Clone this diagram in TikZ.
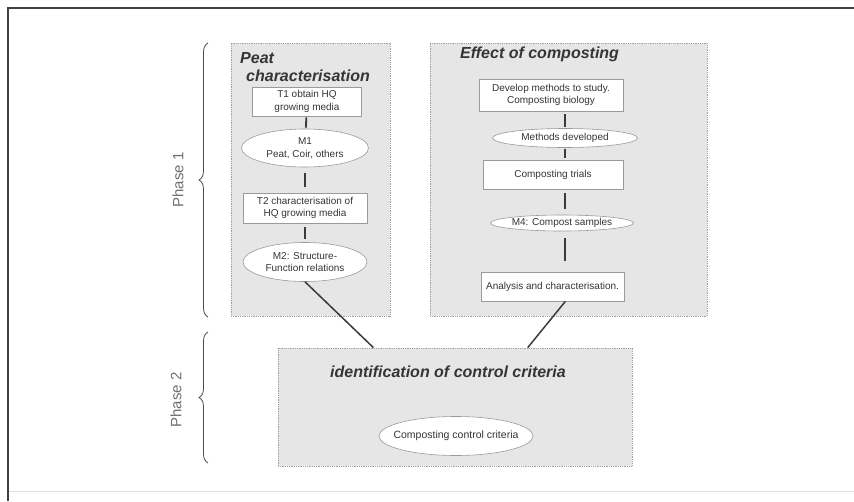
\documentclass[tikz,border=0pt]{standalone}
\usepackage{fontspec}
\setmainfont{Liberation Sans}
\usetikzlibrary{shapes.geometric,decorations.pathreplacing,calc}
\definecolor{framec}{HTML}{404040}
\definecolor{panelfill}{HTML}{E6E6E6}
\definecolor{paneldraw}{HTML}{A0A0A0}
\definecolor{boxdraw}{HTML}{9A9A9A}
\definecolor{txt}{HTML}{353535}
\definecolor{phasec}{HTML}{707070}
\definecolor{linkc}{HTML}{3A3A3A}
\newcommand{\zw}[1]{\makebox[0pt]{#1}}
\begin{document}
\begin{tikzpicture}[x=1pt,y=-1pt,
 panel/.style={draw=paneldraw, densely dotted, fill=panelfill, line width=0.8pt, inner sep=0},
 box/.style={draw=boxdraw, fill=white, line width=0.6pt, inner sep=0, align=center, text=txt, font=\fontsize{10}{12.5}\selectfont},
 oval/.style={ellipse, draw=boxdraw, fill=white, line width=0.6pt, inner sep=0, align=center, text=txt, font=\fontsize{10}{12.5}\selectfont},
 ttl/.style={font=\fontsize{16}{18.5}\selectfont\bfseries\itshape, text=txt, inner sep=0},
 link/.style={draw=linkc, line width=1.8pt, shorten <=4pt, shorten >=4pt},
 big/.style={draw=linkc, line width=1.5pt},
 ph/.style={font=\fontsize{15}{18}\selectfont, text=phasec, rotate=90, inner sep=0},
 br/.style={draw=black!70, line width=0.8pt, decorate, decoration={brace, amplitude=9pt}}]
\useasboundingbox (0,0) rectangle (854,501);
\fill[white] (0,0) rectangle (854,501);
% outer frame
\draw[framec, line width=2pt] (8,501) -- (8,8) -- (854,8);
\draw[black!12, line width=1pt] (9,491) -- (854,491);
% panels
\node[panel, minimum width=159, minimum height=273] (pl) at (310.5,179.5) {};
\node[panel, minimum width=277, minimum height=273] (pr) at (568.5,179.5) {};
\node[panel, minimum width=354, minimum height=118] (pb) at (455,407) {};
% titles
\node[ttl, align=left, anchor=north west] (tl) at (240,52) {Peat\\\hspace*{6pt}characterisation};
\node[ttl, anchor=base west] (tr) at (460,58.5) {Effect of composting};
\node[ttl, anchor=base] (tb) at (448,377.5) {identification of control criteria};
% left column
\node[box, minimum width=109, minimum height=29] (t1) at (307,101.5) {T1 obtain HQ\\growing media};
\node[oval, minimum width=127, minimum height=38] (m1) at (305,148) {\zw{M1}\\\zw{Peat, Coir, others}};
\node[box, minimum width=124, minimum height=30] (t2) at (305,208) {T2 characterisation of\\HQ growing media};
\node[oval, minimum width=124, minimum height=39] (m2) at (305,262) {\zw{M2: Structure-}\\\zw{Function relations}};
% right column
\node[box, minimum width=144, minimum height=32] (b1) at (551,95) {Develop methods to study.\\Composting biology};
\node[oval, minimum width=145, minimum height=19] (e1) at (565,138) {\zw{Methods developed}};
\node[box, minimum width=140, minimum height=29] (b2) at (553,174.5) {Composting trials};
\node[oval, minimum width=143, minimum height=16] (e2) at (562,223) {\zw{M4: Compost samples}};
\node[box, minimum width=143, minimum height=29] (b3) at (552.5,286.5) {Analysis and characterisation.};
% bottom
\node[oval, minimum width=154, minimum height=39, font=\fontsize{10.5}{12.5}\selectfont] (e3) at (456,436) {\zw{Composting control criteria}};
% phases
\node[ph] (p1) at (178,180) {Phase 1};
\node[ph] (p2) at (176,400) {Phase 2};
\draw[br] (208,317) -- (208,43);
\draw[br] (208,463) -- (208,332);
% short connectors
\draw[link, shorten <=1pt, shorten >=1pt] (t1) -- (m1);
\draw[link, shorten <=6pt, shorten >=6pt] (m1) -- (t2);
\draw[link, shorten <=4pt, shorten >=3pt] (t2) -- (m2);
\draw[link, shorten <=3pt, shorten >=1pt] (b1.south -| e1) -- (e1);
\draw[link, shorten <=1pt, shorten >=2pt] (e1) -- (b2.north -| e1);
\draw[link, shorten <=4pt, shorten >=6pt] (b2.south -| e1) -- (e2.north -| e1);
\draw[link, shorten <=7pt, shorten >=11pt] (e2.south -| e1) -- (b3.north -| e1);
% long connectors
\draw[big] (m2.south) -- ($(pb.north west)!0.27!(pb.north east)$);
\draw[big] ($(b3.south west)!0.59!(b3.south east)$) -- ($(pb.north west)!0.705!(pb.north east)$);
\end{tikzpicture}
\end{document}
